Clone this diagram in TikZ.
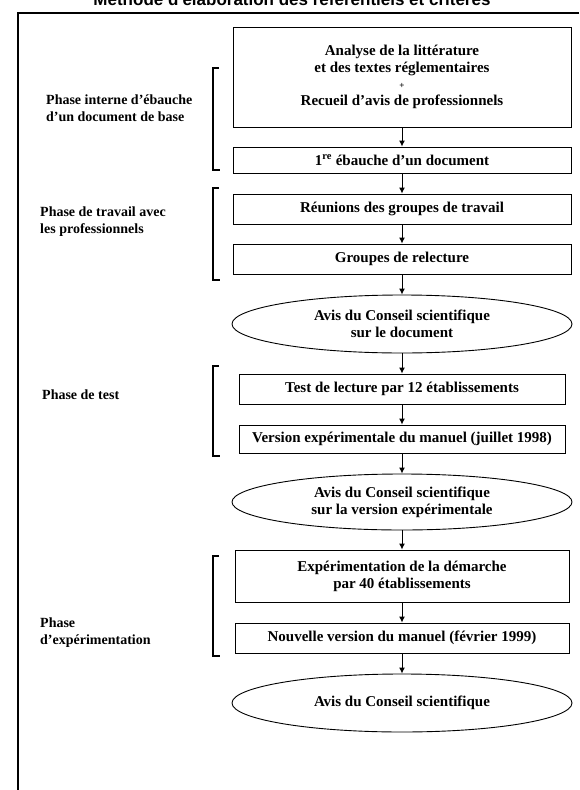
\documentclass[tikz,border=0pt]{standalone}
\usepackage{fontspec}
\setmainfont{Liberation Serif}
\newfontfamily\titrefont{Liberation Sans}
\usetikzlibrary{shapes.geometric, positioning, arrows.meta}

\tikzset{
	etape/.style={draw, line width=0.9pt, minimum width=338pt, align=center, inner sep=2pt,
		font=\bfseries\fontsize{15}{17}\selectfont},
	avis/.style={ellipse, draw, line width=0.9pt, minimum width=340pt, minimum height=57pt,
		inner sep=0pt, align=center, font=\bfseries\fontsize{15}{17}\selectfont},
	phase/.style={anchor=west, align=left, inner sep=0pt, font=\bfseries\fontsize{14}{17}\selectfont},
	fleche/.style={-{Latex[length=6pt,width=6pt]}, line width=1pt},
	crochet/.style={line width=1.1pt}
}

\begin{document}
\begin{tikzpicture}[x=1pt, y=-1pt]
		\clip (0,0) rectangle (579,790);
		% Cadre et titre (coupe en haut)
		\node[font=\titrefont\bfseries\fontsize{17}{20}\selectfont, anchor=base] (titre) at (292,5)
			{Méthode d'élaboration des référentiels et critères};
		\draw[line width=1.2pt] (579,13) -- (18,13) -- (18,790);
		% Etapes
		\def\xc{402}
		\node[etape, minimum height=100pt, font=\bfseries\fontsize{15}{16.5}\selectfont] (litt) at (\xc,77)
			{Analyse de la littérature\\et des textes réglementaires\\{\small +}\\Recueil d'avis de professionnels};
		\node[etape, minimum height=26pt] (ebauche) at (\xc,160) {1\textsuperscript{re} ébauche d'un document};
		\node[etape, minimum height=30pt] (reunions) at (\xc,209) {Réunions des groupes de travail};
		\node[etape, minimum height=30pt] (relecture) at (\xc,259) {Groupes de relecture};
		\node[avis, minimum height=58pt] (avis1) at (\xc,324) {Avis du Conseil scientifique\\sur le document};
		\node[etape, minimum width=326pt, minimum height=30pt] (test) at (\xc,389) {Test de lecture par 12 établissements};
		\node[etape, minimum width=326pt, minimum height=28pt] (version) at (\xc,439) {Version expérimentale du manuel (juillet 1998)};
		\node[avis, minimum height=56pt] (avis2) at (\xc,502) {Avis du Conseil scientifique\\sur la version expérimentale};
		\node[etape, minimum width=334pt, minimum height=52pt] (experim) at (\xc,576)
			{Expérimentation de la démarche\\par 40 établissements};
		\node[etape, minimum width=334pt, minimum height=30pt] (nouvelle) at (\xc,638) {Nouvelle version du manuel (février 1999)};
		\node[avis, minimum height=58pt] (avis3) at (\xc,703) {Avis du Conseil scientifique};
		% Fleches
		\foreach \a/\b in {litt/ebauche, ebauche/reunions, reunions/relecture, relecture/avis1,
			avis1/test, test/version, version/avis2, avis2/experim, experim/nouvelle, nouvelle/avis3}
			\draw[fleche] (\a) -- (\b);
		% Phases
		\node[phase] (phInterne) at (46,108) {Phase interne d'ébauche\\d'un document de base};
		\node[phase] (phTravail) at (40,222) {Phase de travail avec\\les professionnels};
		\node[phase] (phTest) at (42,395) {Phase de test};
		\node[phase] (phExperim) at (40,633) {Phase\\d'expérimentation};
		% Crochets
		\draw[crochet] (219,68) -- (213,68) -- (213,170) -- (220,170);
		\draw[crochet] (219,188) -- (213,188) -- (213,280) -- (220,280);
		\draw[crochet] (219,366) -- (213,366) -- (213,456) -- (220,456);
		\draw[crochet] (219,556) -- (213,556) -- (213,656) -- (220,656);
	\end{tikzpicture}
\end{document}
